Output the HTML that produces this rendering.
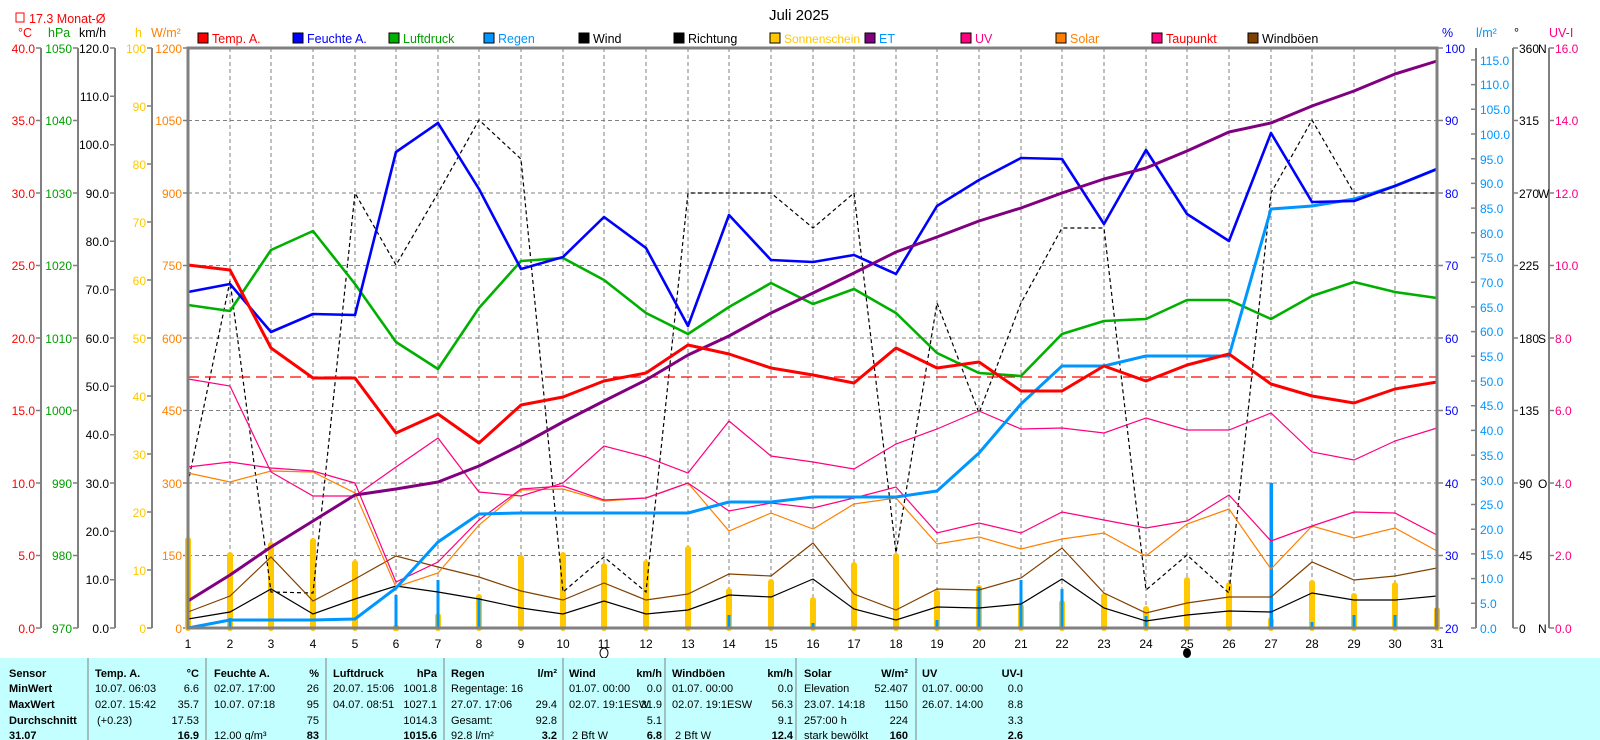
<!DOCTYPE html>
<html><head><meta charset="utf-8"><style>
html,body{margin:0;padding:0;background:#fff;}
svg{display:block;font-family:"Liberation Sans",sans-serif;}
</style></head><body>
<svg width="1600" height="740" viewBox="0 0 1600 740" xmlns="http://www.w3.org/2000/svg">
<rect x="0" y="0" width="1600" height="740" fill="#fff"/>
<text x="799" y="20" font-size="15" text-anchor="middle" fill="#000">Juli 2025</text>
<g font-size="12.5">
<rect x="198" y="33" width="10" height="10" fill="#ff0000" stroke="#000"/><text x="212" y="43" fill="#ff0000">Temp. A.</text>
<rect x="293" y="33" width="10" height="10" fill="#0000ff" stroke="#000"/><text x="307" y="43" fill="#0000ff">Feuchte A.</text>
<rect x="389" y="33" width="10" height="10" fill="#00b000" stroke="#000"/><text x="403" y="43" fill="#00a000">Luftdruck</text>
<rect x="484" y="33" width="10" height="10" fill="#0096ff" stroke="#000"/><text x="498" y="43" fill="#0096ff">Regen</text>
<rect x="579" y="33" width="10" height="10" fill="#000" stroke="#000"/><text x="593" y="43" fill="#000">Wind</text>
<rect x="674" y="33" width="10" height="10" fill="#000" stroke="#000"/><text x="688" y="43" fill="#000">Richtung</text>
<rect x="770" y="33" width="10" height="10" fill="#ffc800" stroke="#000"/><text x="784" y="43" fill="#ffc800" font-size="12">Sonnenschein</text>
<rect x="865" y="33" width="10" height="10" fill="#800080" stroke="#000"/><text x="879" y="43" fill="#0096ff">ET</text>
<rect x="961" y="33" width="10" height="10" fill="#ff0080" stroke="#000"/><text x="975" y="43" fill="#ff0080">UV</text>
<rect x="1056" y="33" width="10" height="10" fill="#ff8000" stroke="#000"/><text x="1070" y="43" fill="#ff8000">Solar</text>
<rect x="1152" y="33" width="10" height="10" fill="#ff0080" stroke="#000"/><text x="1166" y="43" fill="#ff0000">Taupunkt</text>
<rect x="1248" y="33" width="10" height="10" fill="#804000" stroke="#000"/><text x="1262" y="43" fill="#000">Windböen</text>
</g>
<g font-size="12.5">
<rect x="16" y="13" width="8" height="9" fill="none" stroke="#ff0000" stroke-width="1"/>
<text x="29" y="23" fill="#ff0000">17.3 Monat-Ø</text>
<text x="25" y="37" fill="#ff0000" text-anchor="middle">°C</text>
<text x="48" y="37" fill="#00a000">hPa</text>
<text x="79" y="37" fill="#000">km/h</text>
<text x="135" y="37" fill="#ffc800">h</text>
<text x="151" y="37" fill="#ff8000">W/m²</text>
<text x="1442" y="37" fill="#0000ff">%</text>
<text x="1476" y="37" fill="#0096ff">l/m²</text>
<text x="1514" y="37" fill="#000">°</text>
<text x="1549" y="37" fill="#ff0080">UV-I</text>
</g>
<g stroke="#808080" stroke-width="2">
<line x1="41" y1="48" x2="41" y2="628"/><line x1="78" y1="48" x2="78" y2="628"/>
<line x1="115" y1="48" x2="115" y2="628"/><line x1="152" y1="48" x2="152" y2="628"/>
<line x1="1476" y1="48" x2="1476" y2="628"/><line x1="1513" y1="48" x2="1513" y2="628"/>
<line x1="1549" y1="48" x2="1549" y2="628"/>
</g>
<g stroke="#808080" stroke-width="1.5">
<path d="M36 48H41M36 120.5H41M36 193H41M36 265.5H41M36 338H41M36 410.5H41M36 483H41M36 555.5H41M36 628H41"/>
<path d="M73 48H78M73 120.5H78M73 193H78M73 265.5H78M73 338H78M73 410.5H78M73 483H78M73 555.5H78M73 628H78"/>
<path d="M110 48H115M110 96.3H115M110 144.7H115M110 193H115M110 241.3H115M110 289.7H115M110 338H115M110 386.3H115M110 434.7H115M110 483H115M110 531.3H115M110 579.7H115M110 628H115"/>
<path d="M147 48H152M147 106H152M147 164H152M147 222H152M147 280H152M147 338H152M147 396H152M147 454H152M147 512H152M147 570H152M147 628H152"/>
<path d="M183 48H188M183 120.5H188M183 193H188M183 265.5H188M183 338H188M183 410.5H188M183 483H188M183 555.5H188M183 628H188"/>
<path d="M1437 48H1443M1437 120.5H1443M1437 193H1443M1437 265.5H1443M1437 338H1443M1437 410.5H1443M1437 483H1443M1437 555.5H1443M1437 628H1443"/>
<path d="M1471 628H1476M1471 603.3H1476M1471 578.6H1476M1471 553.9H1476M1471 529.2H1476M1471 504.5H1476M1471 479.8H1476M1471 455.1H1476M1471 430.4H1476M1471 405.7H1476M1471 381H1476M1471 356.3H1476M1471 331.6H1476M1471 306.9H1476M1471 282.2H1476M1471 257.5H1476M1471 232.8H1476M1471 208.1H1476M1471 183.4H1476M1471 158.7H1476M1471 134H1476M1471 109.3H1476M1471 84.6H1476M1471 59.9H1476"/>
<path d="M1513 48H1518M1513 120.5H1518M1513 193H1518M1513 265.5H1518M1513 338H1518M1513 410.5H1518M1513 483H1518M1513 555.5H1518M1513 628H1518"/>
<path d="M1549 48H1554M1549 120.5H1554M1549 193H1554M1549 265.5H1554M1549 338H1554M1549 410.5H1554M1549 483H1554M1549 555.5H1554M1549 628H1554"/>
</g>
<g font-size="12" text-anchor="end">
<g fill="#ff0000"><text x="35" y="53">40.0</text><text x="35" y="125">35.0</text><text x="35" y="198">30.0</text><text x="35" y="270">25.0</text><text x="35" y="343">20.0</text><text x="35" y="415">15.0</text><text x="35" y="488">10.0</text><text x="35" y="560">5.0</text><text x="35" y="633">0.0</text></g>
<g fill="#00a000"><text x="72" y="53">1050</text><text x="72" y="125">1040</text><text x="72" y="198">1030</text><text x="72" y="270">1020</text><text x="72" y="343">1010</text><text x="72" y="415">1000</text><text x="72" y="488">990</text><text x="72" y="560">980</text><text x="72" y="633">970</text></g>
<g fill="#000"><text x="109" y="53">120.0</text><text x="109" y="101">110.0</text><text x="109" y="149">100.0</text><text x="109" y="198">90.0</text><text x="109" y="246">80.0</text><text x="109" y="294">70.0</text><text x="109" y="343">60.0</text><text x="109" y="391">50.0</text><text x="109" y="439">40.0</text><text x="109" y="488">30.0</text><text x="109" y="536">20.0</text><text x="109" y="584">10.0</text><text x="109" y="633">0.0</text></g>
<g fill="#ffc800"><text x="146" y="53">100</text><text x="146" y="111">90</text><text x="146" y="169">80</text><text x="146" y="227">70</text><text x="146" y="285">60</text><text x="146" y="343">50</text><text x="146" y="401">40</text><text x="146" y="459">30</text><text x="146" y="517">20</text><text x="146" y="575">10</text><text x="146" y="633">0</text></g>
<g fill="#ff8000"><text x="182" y="53">1200</text><text x="182" y="125">1050</text><text x="182" y="198">900</text><text x="182" y="270">750</text><text x="182" y="343">600</text><text x="182" y="415">450</text><text x="182" y="488">300</text><text x="182" y="560">150</text><text x="182" y="633">0</text></g>
</g>
<g font-size="12">
<g fill="#0000ff"><text x="1445" y="53">100</text><text x="1445" y="125">90</text><text x="1445" y="198">80</text><text x="1445" y="270">70</text><text x="1445" y="343">60</text><text x="1445" y="415">50</text><text x="1445" y="488">40</text><text x="1445" y="560">30</text><text x="1445" y="633">20</text></g>
<g fill="#0096ff"><text x="1480" y="633">0.0</text><text x="1480" y="608">5.0</text><text x="1480" y="583">10.0</text><text x="1480" y="559">15.0</text><text x="1480" y="534">20.0</text><text x="1480" y="509">25.0</text><text x="1480" y="485">30.0</text><text x="1480" y="460">35.0</text><text x="1480" y="435">40.0</text><text x="1480" y="410">45.0</text><text x="1480" y="386">50.0</text><text x="1480" y="361">55.0</text><text x="1480" y="336">60.0</text><text x="1480" y="312">65.0</text><text x="1480" y="287">70.0</text><text x="1480" y="262">75.0</text><text x="1480" y="238">80.0</text><text x="1480" y="213">85.0</text><text x="1480" y="188">90.0</text><text x="1480" y="164">95.0</text><text x="1480" y="139">100.0</text><text x="1480" y="114">105.0</text><text x="1480" y="89">110.0</text><text x="1480" y="65">115.0</text></g>
<g fill="#000"><text x="1519" y="53">360</text><text x="1519" y="125">315</text><text x="1519" y="198">270</text><text x="1519" y="270">225</text><text x="1519" y="343">180</text><text x="1519" y="415">135</text><text x="1519" y="488">90</text><text x="1519" y="560">45</text><text x="1519" y="633">0</text>
<text x="1538" y="53">N</text><text x="1538" y="198">W</text><text x="1538" y="343">S</text><text x="1538" y="488">O</text><text x="1538" y="633">N</text></g>
<g fill="#ff0080"><text x="1555" y="53">16.0</text><text x="1555" y="125">14.0</text><text x="1555" y="198">12.0</text><text x="1555" y="270">10.0</text><text x="1555" y="343">8.0</text><text x="1555" y="415">6.0</text><text x="1555" y="488">4.0</text><text x="1555" y="560">2.0</text><text x="1555" y="633">0.0</text></g>
</g>
<g stroke="#808080" stroke-width="1" stroke-dasharray="4,3">
<path d="M188 120.5H1437M188 193H1437M188 265.5H1437M188 338H1437M188 410.5H1437M188 483H1437M188 555.5H1437"/>
<path d="M230 48V628M271 48V628M313 48V628M355 48V628M396 48V628M438 48V628M479 48V628M521 48V628M563 48V628M604 48V628M646 48V628M688 48V628M729 48V628M771 48V628M813 48V628M854 48V628M896 48V628M937 48V628M979 48V628M1021 48V628M1062 48V628M1104 48V628M1146 48V628M1187 48V628M1229 48V628M1271 48V628M1312 48V628M1354 48V628M1395 48V628"/>
</g>
<g fill="#ffc800">
<rect x="185" y="537" width="6" height="94" rx="3"/><rect x="227" y="552" width="6" height="79" rx="3"/><rect x="268" y="542" width="6" height="89" rx="3"/><rect x="310" y="538" width="6" height="93" rx="3"/><rect x="352" y="560" width="6" height="71" rx="3"/><rect x="393" y="625" width="6" height="6" rx="2"/><rect x="435" y="613" width="6" height="18" rx="3"/><rect x="476" y="594" width="6" height="37" rx="3"/><rect x="518" y="555" width="6" height="76" rx="3"/><rect x="560" y="552" width="6" height="79" rx="3"/><rect x="601" y="563" width="6" height="68" rx="3"/><rect x="643" y="560" width="6" height="71" rx="3"/><rect x="685" y="546" width="6" height="85" rx="3"/><rect x="726" y="588" width="6" height="43" rx="3"/><rect x="768" y="579" width="6" height="52" rx="3"/><rect x="810" y="597" width="6" height="34" rx="3"/><rect x="851" y="562" width="6" height="69" rx="3"/><rect x="893" y="553" width="6" height="78" rx="3"/><rect x="934" y="590" width="6" height="41" rx="3"/><rect x="976" y="585" width="6" height="46" rx="3"/><rect x="1018" y="604" width="6" height="27" rx="3"/><rect x="1059" y="600" width="6" height="31" rx="3"/><rect x="1101" y="593" width="6" height="38" rx="3"/><rect x="1143" y="606" width="6" height="25" rx="3"/><rect x="1184" y="577" width="6" height="54" rx="3"/><rect x="1226" y="582" width="6" height="49" rx="3"/><rect x="1268" y="617" width="6" height="14" rx="3"/><rect x="1309" y="580" width="6" height="51" rx="3"/><rect x="1351" y="593" width="6" height="38" rx="3"/><rect x="1392" y="582" width="6" height="49" rx="3"/><rect x="1434" y="607" width="6" height="24" rx="3"/>
</g>
<g fill="#0096ff">
<rect x="228.5" y="618" width="3" height="10"/><rect x="394.5" y="595" width="3" height="33"/><rect x="436.5" y="580" width="3" height="48"/><rect x="477.5" y="598" width="3" height="30"/><rect x="727.5" y="615" width="3" height="13"/><rect x="811.5" y="623" width="3" height="5"/><rect x="935.5" y="620" width="3" height="8"/><rect x="977.5" y="587" width="3" height="41"/><rect x="1019.5" y="580" width="3" height="48"/><rect x="1060.5" y="589" width="3" height="39"/><rect x="1144.5" y="616" width="3" height="12"/><rect x="1269.5" y="483" width="3.5" height="145"/><rect x="1310.5" y="622" width="3" height="6"/><rect x="1352.5" y="615" width="3" height="13"/><rect x="1393.5" y="615" width="3" height="13"/><rect x="1435" y="608" width="3" height="20"/>
</g>
<g fill="none" stroke-width="1.2">
<polyline stroke="#000" stroke-dasharray="4,3" points="188,483 230,281 271,592 313,593 355,193 396,265 438,193 479,120 521,159 563,592 604,557 646,592 688,193 729,193 771,193 813,228 854,193 896,553 937,303 979,413 1021,303 1062,228 1104,228 1146,590 1187,555 1229,593 1271,193 1312,120 1354,193 1395,193 1437,193"/>
<polyline stroke="#804000" points="188,612 230,596 271,557 313,601 355,579 396,556 438,567 479,577 521,591 563,600 604,583 646,600 688,594 729,574 771,576 813,543 854,594 896,610 937,589 979,590 1021,578 1062,548 1104,593 1146,613 1187,603 1229,597 1271,597 1312,562 1354,580 1395,576 1437,568"/>
<polyline stroke="#000" points="188,619 230,612 271,589 313,614 355,599 396,586 438,592 479,599 521,608 563,614 604,601 646,614 688,610 729,595 771,597 813,579 854,609 896,620 937,607 979,608 1021,604 1062,579 1104,608 1146,621 1187,615 1229,611 1271,612 1312,593 1354,600 1395,600 1437,596"/>
<polyline stroke="#ff8000" points="188,473 230,482 271,471 313,472 355,493 396,587 438,573 479,525 521,490 563,489 604,501 646,498 688,483 729,531 771,513 813,529 854,504 896,498 937,544 979,537 1021,549 1062,539 1104,533 1146,556 1187,524 1229,509 1271,569 1312,526 1354,538 1395,528 1437,551"/>
<polyline stroke="#ff0080" points="188,467 230,462 271,468 313,471 355,483 396,582 438,562 479,520 521,489 563,486 604,500 646,498 688,483 729,511 771,503 813,508 854,498 896,487 937,533 979,523 1021,533 1062,512 1104,520 1146,528 1187,521 1229,495 1271,541 1312,526 1354,512 1395,513 1437,535"/>
<polyline stroke="#ff0080" points="188,379 230,386 271,472 313,496 355,496 396,467 438,438 479,492 521,496 563,483 604,446 646,457 688,473 729,421 771,456 813,462 854,469 896,444 937,429 979,411 1021,429 1062,428 1104,433 1146,418 1187,430 1229,430 1271,413 1312,452 1354,460 1395,441 1437,428"/>
</g>
<line x1="188" y1="377" x2="1437" y2="377" stroke="#ff0000" stroke-width="1.2" stroke-dasharray="11,6"/>
<g fill="none" stroke-width="2.6" stroke-linejoin="round">
<polyline stroke="#00b000" points="188,305 230,311 271,250 313,231 355,284 396,342 438,369 479,308 521,261 563,258 604,280 646,313 688,334 729,307 771,283 813,304 854,289 896,313 937,353 979,373 1021,376 1062,334 1104,321 1146,319 1187,300 1229,300 1271,319 1312,296 1354,282 1395,292 1437,298"/>
<polyline stroke="#0096ff" stroke-width="3" points="188,628 230,620 271,620 313,620 355,619 396,588 438,542 479,514 521,513 563,513 604,513 646,513 688,513 729,502 771,502 813,497 854,497 896,497 937,491 979,453 1021,404 1062,366 1104,366 1146,356 1187,356 1229,356 1271,209 1312,206 1354,199 1395,186 1437,169"/>
<polyline stroke="#0000ff" points="188,292 230,284 271,332 313,314 355,315 396,152 438,123 479,189 521,269 563,257 604,217 646,248 688,326 729,215 771,260 813,262 854,255 896,274 937,206 979,180 1021,158 1062,159 1104,224 1146,150 1187,214 1229,241 1271,133 1312,202 1354,201 1395,186 1437,169"/>
<polyline stroke="#800080" stroke-width="3" points="188,601 230,575 271,547 313,521 355,495 396,489 438,482 479,466 521,445 563,422 604,401 646,380 688,355 729,336 771,313 813,293 854,273 896,252 937,237 979,221 1021,208 1062,193 1104,179 1146,168 1187,151 1229,132 1271,123 1312,106 1354,91 1395,74 1437,61"/>
<polyline stroke="#ff0000" stroke-width="3" points="188,265 230,270 271,348 313,378 355,378 396,433 438,414 479,443 521,405 563,397 604,381 646,373 688,345 729,354 771,368 813,375 854,383 896,348 937,368 979,362 1021,391 1062,391 1104,366 1146,381 1187,365 1229,354 1271,384 1312,396 1354,403 1395,389 1437,382"/>
</g>
<rect x="188" y="48" width="1249" height="580" fill="none" stroke="#808080" stroke-width="3"/>
<g font-size="12" text-anchor="middle" fill="#000">
<text x="188" y="648">1</text><text x="230" y="648">2</text><text x="271" y="648">3</text><text x="313" y="648">4</text><text x="355" y="648">5</text><text x="396" y="648">6</text><text x="438" y="648">7</text><text x="479" y="648">8</text><text x="521" y="648">9</text><text x="563" y="648">10</text><text x="604" y="648">11</text><text x="646" y="648">12</text><text x="688" y="648">13</text><text x="729" y="648">14</text><text x="771" y="648">15</text><text x="813" y="648">16</text><text x="854" y="648">17</text><text x="896" y="648">18</text><text x="937" y="648">19</text><text x="979" y="648">20</text><text x="1021" y="648">21</text><text x="1062" y="648">22</text><text x="1104" y="648">23</text><text x="1146" y="648">24</text><text x="1187" y="648">25</text><text x="1229" y="648">26</text><text x="1271" y="648">27</text><text x="1312" y="648">28</text><text x="1354" y="648">29</text><text x="1395" y="648">30</text><text x="1437" y="648">31</text>
</g>
<ellipse cx="604" cy="653" rx="4" ry="5" fill="none" stroke="#000" stroke-width="1"/>
<ellipse cx="1187" cy="653" rx="4" ry="5" fill="#000"/>
<rect x="0" y="658" width="1600" height="82" fill="#c4ffff"/>
<g stroke="#808080" stroke-width="1">
<path d="M88 658V740M206 658V740M326 658V740M444 658V740M563 658V740M665 658V740M796 658V740M916 658V740"/>
</g>
<g font-size="11" fill="#000">
<g font-weight="bold"><text x="9" y="677">Sensor</text><text x="9" y="692">MinWert</text><text x="9" y="708">MaxWert</text><text x="9" y="724">Durchschnitt</text><text x="9" y="739">31.07</text>
<text x="95" y="677">Temp. A.</text><text x="214" y="677">Feuchte A.</text><text x="333" y="677">Luftdruck</text><text x="451" y="677">Regen</text><text x="569" y="677">Wind</text><text x="672" y="677">Windböen</text><text x="804" y="677">Solar</text><text x="922" y="677">UV</text></g>
<g font-weight="bold" text-anchor="end"><text x="199" y="677">°C</text><text x="319" y="677">%</text><text x="437" y="677">hPa</text><text x="557" y="677">l/m²</text><text x="662" y="677">km/h</text><text x="793" y="677">km/h</text><text x="908" y="677">W/m²</text><text x="1023" y="677">UV-I</text>
<text x="199" y="739">16.9</text><text x="319" y="739">83</text><text x="437" y="739">1015.6</text><text x="557" y="739">3.2</text><text x="662" y="739">6.8</text><text x="793" y="739">12.4</text><text x="908" y="739">160</text><text x="1023" y="739">2.6</text></g>
<text x="95" y="692">10.07.  06:03</text><text x="95" y="708">02.07.  15:42</text><text x="97" y="724">(+0.23)</text>
<text x="214" y="692">02.07.  17:00</text><text x="214" y="708">10.07.  07:18</text><text x="214" y="739">12.00 g/m³</text>
<text x="333" y="692">20.07.  15:06</text><text x="333" y="708">04.07.  08:51</text>
<text x="451" y="692">Regentage: 16</text><text x="451" y="708">27.07.  17:06</text><text x="451" y="724">Gesamt:</text><text x="451" y="739">92.8 l/m²</text>
<text x="569" y="692">01.07.  00:00</text><text x="569" y="708">02.07.  19:1ESW</text><text x="572" y="739">2 Bft W</text>
<text x="672" y="692">01.07.  00:00</text><text x="672" y="708">02.07.  19:1ESW</text><text x="675" y="739">2 Bft W</text>
<text x="804" y="692">Elevation</text><text x="804" y="708">23.07.  14:18</text><text x="804" y="724">257:00 h</text><text x="804" y="739">stark bewölkt</text>
<text x="922" y="692">01.07.  00:00</text><text x="922" y="708">26.07.  14:00</text>
<g text-anchor="end">
<text x="199" y="692">6.6</text><text x="199" y="708">35.7</text><text x="199" y="724">17.53</text>
<text x="319" y="692">26</text><text x="319" y="708">95</text><text x="319" y="724">75</text>
<text x="437" y="692">1001.8</text><text x="437" y="708">1027.1</text><text x="437" y="724">1014.3</text>
<text x="557" y="708">29.4</text><text x="557" y="724">92.8</text>
<text x="662" y="692">0.0</text><text x="662" y="708">31.9</text><text x="662" y="724">5.1</text>
<text x="793" y="692">0.0</text><text x="793" y="708">56.3</text><text x="793" y="724">9.1</text>
<text x="908" y="692">52.407</text><text x="908" y="708">1150</text><text x="908" y="724">224</text>
<text x="1023" y="692">0.0</text><text x="1023" y="708">8.8</text><text x="1023" y="724">3.3</text>
</g>
</g>
</svg>
</body></html>
